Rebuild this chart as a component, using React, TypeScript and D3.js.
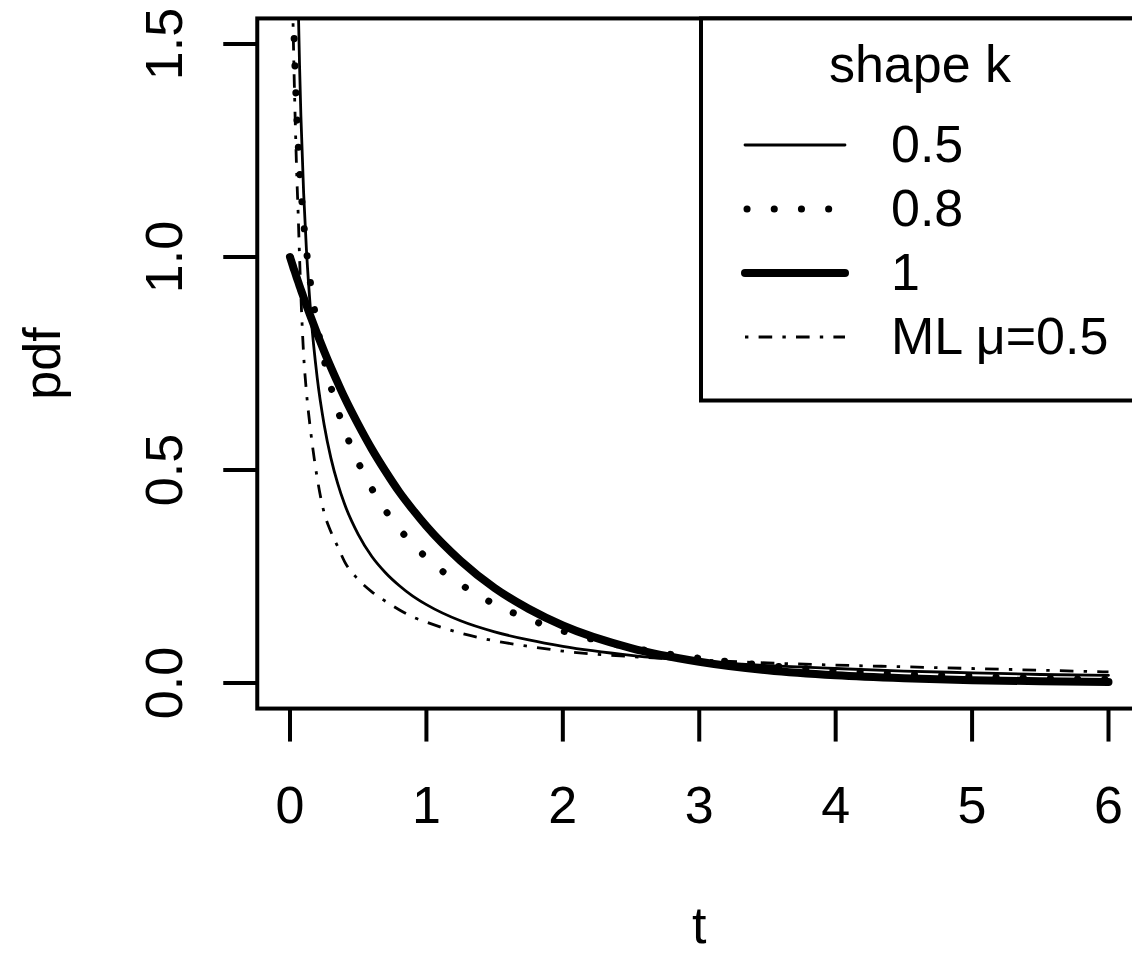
import React from "react";
import * as d3 from "d3";

// ---- data ----
const tGrid = [0, 0.01, 0.02, 0.03, 0.04, 0.05, 0.06, 0.07, 0.08, 0.1, 0.12, 0.15, 0.2, 0.25, 0.3, 0.35, 0.4, 0.5, 0.6, 0.7, 0.8, 0.9, 1.0, 1.25, 1.5, 1.75, 2, 2.5, 3, 3.5, 4, 4.5, 5, 5.5, 6];

const pdfK05 = [null, 4.52, 3.07, 2.43, 2.05, 1.79, 1.6, 1.45, 1.33, 1.15, 1.02, 0.877, 0.715, 0.607, 0.528, 0.468, 0.42, 0.349, 0.297, 0.259, 0.229, 0.204, 0.184, 0.146, 0.12, 0.101, 0.086, 0.065, 0.051, 0.041, 0.034, 0.028, 0.024, 0.02, 0.018];
const pdfK08 = [null, 1.96, 1.675, 1.518, 1.411, 1.33, 1.264, 1.209, 1.161, 1.082, 1.018, 0.939, 0.838, 0.759, 0.695, 0.641, 0.594, 0.518, 0.456, 0.405, 0.362, 0.326, 0.294, 0.232, 0.185, 0.15, 0.122, 0.083, 0.058, 0.041, 0.029, 0.021, 0.016, 0.011, 0.0085];
const pdfK1 = [1.0, 0.99, 0.98, 0.97, 0.961, 0.951, 0.942, 0.932, 0.923, 0.905, 0.887, 0.861, 0.819, 0.779, 0.741, 0.705, 0.67, 0.607, 0.549, 0.497, 0.449, 0.407, 0.368, 0.287, 0.223, 0.174, 0.135, 0.082, 0.05, 0.03, 0.018, 0.011, 0.0067, 0.0041, 0.0025];
const pdfML = [null, 1.9, 1.6, 1.43, 1.3, 1.19, 1.1, 1.0, 0.91, 0.77, 0.685, 0.595, 0.48, 0.4, 0.355, 0.32, 0.285, 0.243, 0.214, 0.192, 0.172, 0.155, 0.143, 0.117, 0.099, 0.086, 0.075, 0.062, 0.054, 0.047, 0.042, 0.038, 0.034, 0.03, 0.026];

const xTicks = [0, 1, 2, 3, 4, 5, 6];
const xTickLabels = ["0", "1", "2", "3", "4", "5", "6"];
const yTicks = [0, 0.5, 1, 1.5];
const yTickLabels = ["0.0", "0.5", "1.0", "1.5"];
const xLabel = "t";
const yLabel = "pdf";
const legendTitle = "shape k";
const legendLabels = ["0.5", "0.8", "1", "ML \u03bc=0.5"];

// ---- styles ----
const seriesStyles = [
  { width: 2.8, dash: "none", cap: "round" },
  { width: 7, dash: "0.1 27.1", cap: "round" },
  { width: 8, dash: "none", cap: "round" },
  { width: 2.8, dash: "3.4 10.2 13.6 10.2", cap: "butt" },
];

const W = 1132;
const H = 954;
const FONT = "'Liberation Sans', Arial, Helvetica, sans-serif";
const FS = 52;

export default function App() {
  const x = d3.scaleLinear().domain([0, 6]).range([290, 1108.5]);
  const y = d3.scaleLinear().domain([0, 1.5]).range([683, 44]);
  const bx0 = x(-0.24);
  const bx1 = x(6.24);
  const by0 = y(1.56);
  const by1 = y(-0.06);

  const series = [pdfK05, pdfK08, pdfK1, pdfML];
  const line = d3
    .line<[number, number | null]>()
    .defined((d) => d[1] != null)
    .x((d) => x(d[0]))
    .y((d) => y(d[1] as number))
    .curve(d3.curveMonotoneX);

  const legX = 701;
  const legBottom = 400.5;
  const legLineX0 = 745;
  const legLineX1 = 845;
  const legTextX = 891;
  const legRow0 = 145;
  const legRowStep = 64;

  return (
    <div style={{ position: "absolute", left: 0, top: 0 }}>
      <svg width={W} height={H} viewBox={`0 0 ${W} ${H}`} style={{ display: "block", background: "#fff" }}>
        <defs>
          <clipPath id="plotClip">
            <rect x={bx0} y={by0} width={bx1 - bx0} height={by1 - by0} />
          </clipPath>
        </defs>
        <rect x={0} y={0} width={W} height={H} fill="#fff" />

        {/* curves */}
        <g clipPath="url(#plotClip)">
          {series.map((vals, i) => {
            const pts = tGrid.map((t, j) => [t, vals[j]] as [number, number | null]);
            const st = seriesStyles[i];
            return (
              <path
                key={i}
                d={line(pts) || ""}
                fill="none"
                stroke="#000"
                strokeWidth={st.width}
                strokeDasharray={st.dash}
                strokeLinecap={st.cap as any}
                strokeLinejoin="round"
              />
            );
          })}
        </g>

        {/* box */}
        <rect x={bx0} y={by0} width={bx1 - bx0} height={by1 - by0} fill="none" stroke="#000" strokeWidth={4} />

        {/* x axis */}
        {xTicks.map((t, i) => (
          <g key={"xt" + i}>
            <line x1={x(t)} x2={x(t)} y1={by1} y2={by1 + 33} stroke="#000" strokeWidth={4} />
            <text x={x(t)} y={823} textAnchor="middle" fontFamily={FONT} fontSize={FS} fill="#000">
              {xTickLabels[i]}
            </text>
          </g>
        ))}

        {/* y axis */}
        {yTicks.map((v, i) => (
          <g key={"yt" + i}>
            <line x1={bx0} x2={bx0 - 34} y1={y(v)} y2={y(v)} stroke="#000" strokeWidth={4} />
            <text
              transform={`translate(182,${y(v)}) rotate(-90)`}
              textAnchor="middle"
              fontFamily={FONT}
              fontSize={FS}
              fill="#000"
            >
              {yTickLabels[i]}
            </text>
          </g>
        ))}

        {/* axis titles */}
        <text x={(bx0 + bx1) / 2} y={943} textAnchor="middle" fontFamily={FONT} fontSize={FS} fill="#000">
          {xLabel}
        </text>
        <text
          transform={`translate(60,${(by0 + by1) / 2}) rotate(-90)`}
          textAnchor="middle"
          fontFamily={FONT}
          fontSize={FS}
          fill="#000"
        >
          {yLabel}
        </text>

        {/* legend */}
        <rect x={legX} y={by0} width={bx1 - legX} height={legBottom - by0} fill="#fff" stroke="#000" strokeWidth={4} />
        <text x={920} y={82} textAnchor="middle" fontFamily={FONT} fontSize={FS} fill="#000">
          {legendTitle}
        </text>
        {legendLabels.map((lab, i) => {
          const st = seriesStyles[i];
          const ry = legRow0 + legRowStep * i;
          return (
            <g key={"lg" + i}>
              <line
                x1={legLineX0 + (st.cap === "round" && st.dash !== "none" ? 2 : 0)}
                x2={legLineX1}
                y1={ry}
                y2={ry}
                stroke="#000"
                strokeWidth={st.width}
                strokeDasharray={st.dash}
                strokeLinecap={st.cap as any}
              />
              <text x={legTextX} y={ry + 17} fontFamily={FONT} fontSize={FS} fill="#000">
                {lab}
              </text>
            </g>
          );
        })}
      </svg>
    </div>
  );
}
